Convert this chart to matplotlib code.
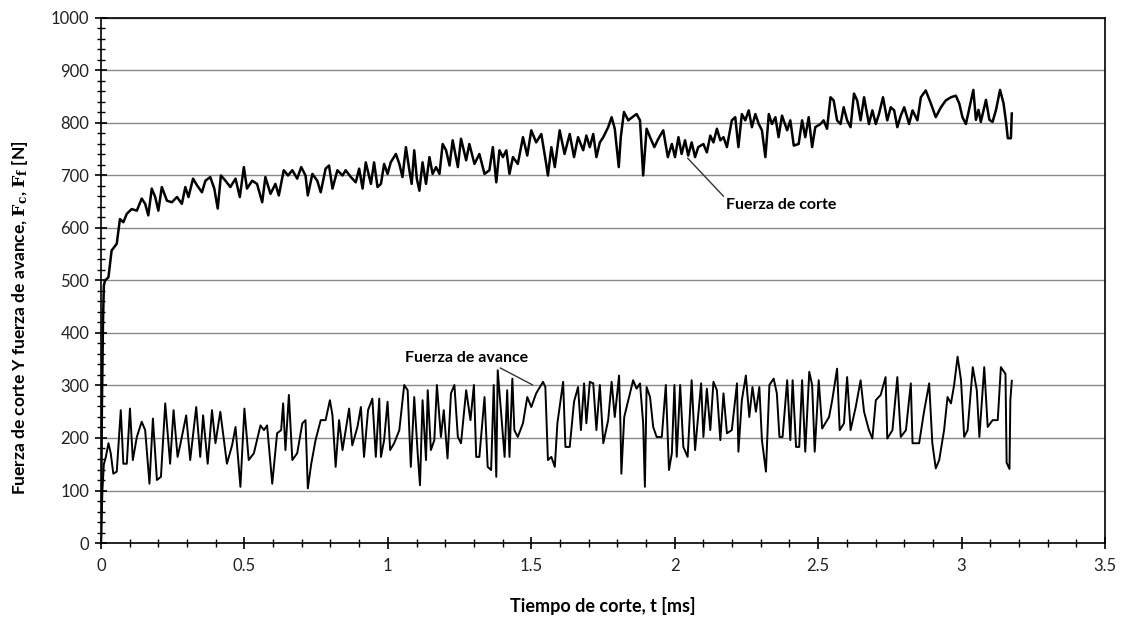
import numpy as np
import matplotlib.pyplot as plt
from matplotlib.ticker import MultipleLocator, FuncFormatter

plt.rcParams.update({"font.family": "Lato", "mathtext.fontset": "dejavuserif",
                     "font.size": 11})

# tiempo de corte (ms) y fuerza de corte (N)
cut_t = [0.000, 0.003, 0.007, 0.010, 0.014, 0.026, 0.037, 0.055, 0.066, 0.078,
         0.090, 0.107, 0.125, 0.142, 0.154, 0.165, 0.177, 0.189, 0.200, 0.212,
         0.230, 0.247, 0.265, 0.282, 0.294, 0.305, 0.321, 0.335, 0.352, 0.364,
         0.381, 0.395, 0.407, 0.418, 0.434, 0.451, 0.469, 0.484, 0.498, 0.509,
         0.527, 0.544, 0.562, 0.573, 0.591, 0.608, 0.620, 0.637, 0.652, 0.667,
         0.684, 0.698, 0.713, 0.721, 0.737, 0.754, 0.766, 0.783, 0.795, 0.807,
         0.824, 0.842, 0.853, 0.871, 0.888, 0.900, 0.912, 0.923, 0.941, 0.952,
         0.964,
         0.976, 0.987, 0.999, 1.010, 1.028, 1.040, 1.051, 1.063, 1.075, 1.083,
         1.092, 1.101, 1.110, 1.121, 1.133, 1.145, 1.156, 1.168, 1.180, 1.191,
         1.203, 1.215, 1.226, 1.244, 1.255, 1.273, 1.284, 1.302, 1.319, 1.337,
         1.354, 1.366, 1.378, 1.389, 1.401, 1.413, 1.424, 1.436, 1.453, 1.471,
         1.486, 1.500, 1.517, 1.535, 1.552, 1.558, 1.570, 1.582, 1.599, 1.616,
         1.634, 1.649, 1.663, 1.681, 1.692, 1.704, 1.716, 1.727, 1.739, 1.751,
         1.768, 1.780, 1.791, 1.805, 1.812, 1.823, 1.838, 1.852, 1.867, 1.879,
         1.890, 1.902, 1.914, 1.929, 1.943, 1.960, 1.976,
         1.990, 2.001, 2.013, 2.024, 2.036, 2.047, 2.059, 2.071, 2.082, 2.100,
         2.112, 2.124, 2.135, 2.147, 2.159, 2.170, 2.182, 2.199, 2.211, 2.222,
         2.234, 2.246, 2.258, 2.269, 2.281, 2.293, 2.304, 2.316, 2.328, 2.339,
         2.351, 2.362, 2.374, 2.392, 2.403, 2.415, 2.432, 2.444, 2.455, 2.467,
         2.479, 2.490, 2.508, 2.519, 2.531, 2.543, 2.554, 2.566, 2.578, 2.589,
         2.601, 2.613, 2.625, 2.636, 2.648, 2.660, 2.677, 2.689, 2.701, 2.712,
         2.726, 2.741, 2.753, 2.765, 2.776, 2.788, 2.800, 2.817, 2.829, 2.846,
         2.858, 2.875, 2.893, 2.910, 2.928, 2.945, 2.963, 2.980, 2.992, 3.003,
         3.015,
         3.041, 3.050, 3.059, 3.067, 3.085, 3.097, 3.108, 3.120, 3.134, 3.146,
         3.155, 3.161, 3.172, 3.175]
cut_f = [0, 250, 420, 490, 500, 506, 557, 570, 617, 611,
         627, 636, 633, 656, 646, 624, 675, 659, 633, 678,
         652, 649, 659, 646, 678, 659, 694, 681, 668, 690,
         697, 675, 637, 700, 690, 678, 694, 659, 716, 675,
         690, 684, 649, 697, 665, 684, 662, 710, 700, 710,
         694, 716, 700, 662, 703, 690, 668, 713, 719, 675,
         710, 700, 710, 697, 687, 713, 675, 725, 684, 725,
         678,
         684, 722, 703, 725, 741, 722, 697, 754, 710, 684,
         748, 694, 671, 725, 684, 735, 703, 716, 703, 760,
         748, 719, 767, 716, 770, 729, 760, 722, 741, 703,
         710, 754, 687, 748, 735, 748, 703, 735, 722, 773,
         738, 786, 763, 779, 722, 700, 754, 716, 786, 741,
         779, 735, 773, 748, 776, 754, 779, 735, 763, 773,
         792, 811, 789, 716, 773, 821, 805, 811, 817, 805,
         700, 789, 773, 754, 770, 786, 735,
         760, 735, 773, 741, 767, 738, 763, 735, 754, 760,
         744, 776, 763, 789, 767, 773, 754, 805, 811, 754,
         817, 805, 824, 792, 817, 798, 786, 735, 817, 798,
         811, 773, 814, 786, 805, 757, 760, 805, 773, 811,
         754, 792, 798, 805, 789, 849, 843, 805, 798, 830,
         805, 792, 856, 843, 805, 849, 798, 824, 798, 817,
         849, 805, 830, 824, 792, 814, 830, 798, 824, 805,
         849, 862, 837, 811, 830, 843, 849, 852, 837, 811,
         798,
         863, 806, 825, 802, 844, 806, 802, 825, 863, 838,
         802, 771, 771, 818]

# fuerza de avance (N)
feed_t = [0.000, 0.005, 0.010, 0.017, 0.026, 0.034, 0.043, 0.055, 0.069, 0.078,
          0.090, 0.101, 0.111, 0.125, 0.142, 0.154, 0.169, 0.181, 0.195, 0.209,
          0.224, 0.241, 0.253, 0.267, 0.276, 0.297, 0.311, 0.332, 0.346, 0.356,
          0.372, 0.387, 0.399, 0.416, 0.439, 0.457, 0.469, 0.486, 0.500, 0.515,
          0.533, 0.556, 0.568, 0.579, 0.597, 0.614, 0.628, 0.635, 0.643, 0.655,
          0.667, 0.684, 0.702, 0.713, 0.721, 0.733, 0.748, 0.766, 0.783, 0.798,
          0.807, 0.818, 0.830, 0.842, 0.865, 0.876, 0.894, 0.906, 0.917, 0.931,
          0.946, 0.958, 0.970,
          0.976, 0.987, 0.999, 1.008, 1.022, 1.040, 1.057, 1.069, 1.080, 1.092,
          1.104, 1.112, 1.121, 1.133, 1.139, 1.150, 1.162, 1.171, 1.185, 1.195,
          1.208, 1.220, 1.232, 1.244, 1.255, 1.273, 1.288, 1.300, 1.308, 1.319,
          1.337, 1.348, 1.360, 1.369, 1.378, 1.383, 1.395, 1.407, 1.416, 1.424,
          1.434, 1.441, 1.453, 1.471, 1.486, 1.500, 1.517, 1.541, 1.549, 1.558,
          1.570, 1.582, 1.591, 1.611, 1.619, 1.634, 1.649, 1.663, 1.673, 1.684,
          1.692, 1.704, 1.716, 1.727, 1.739, 1.751, 1.768, 1.780, 1.791, 1.806,
          1.811, 1.814, 1.824, 1.838, 1.855, 1.867, 1.879, 1.890, 1.896, 1.902,
          1.914, 1.925, 1.937, 1.955, 1.969, 1.980,
          1.990, 1.999, 2.007, 2.019, 2.030, 2.045, 2.059, 2.071, 2.092, 2.100,
          2.112, 2.124, 2.135, 2.147, 2.159, 2.170, 2.182, 2.199, 2.217, 2.222,
          2.234, 2.248, 2.260, 2.271, 2.283, 2.295, 2.304, 2.318, 2.330, 2.345,
          2.356, 2.365, 2.376, 2.392, 2.403, 2.411, 2.423, 2.434, 2.444, 2.455,
          2.469, 2.479, 2.488, 2.502, 2.514, 2.538, 2.549, 2.566, 2.575, 2.590,
          2.601, 2.613, 2.631, 2.648, 2.660, 2.677, 2.689, 2.701, 2.718, 2.735,
          2.741, 2.759, 2.776, 2.788, 2.806, 2.823, 2.829, 2.852, 2.869, 2.887,
          2.898, 2.910, 2.922, 2.939, 2.951, 2.963, 2.974, 2.986, 2.998, 3.009,
          3.021, 3.039, 3.053, 3.062, 3.079, 3.091, 3.108, 3.126, 3.137,
          3.153, 3.157, 3.167, 3.170, 3.175]
feed_f = [0, 100, 150, 164, 190, 171, 132, 136, 253, 151,
          151, 256, 158, 202, 231, 215, 113, 237, 120, 126,
          266, 151, 253, 164, 186, 243, 158, 259, 164, 243,
          151, 253, 190, 250, 151, 186, 221, 107, 256, 158,
          171, 224, 215, 224, 113, 209, 215, 266, 177, 282,
          158, 171, 228, 234, 104, 151, 196, 234, 234, 272,
          243, 145, 234, 177, 256, 186, 221, 259, 164, 253,
          275, 164, 275,
          164, 196, 269, 177, 190, 215, 301, 291, 145, 278,
          171, 110, 272, 158, 291, 177, 196, 301, 202, 253,
          161, 285, 301, 202, 190, 291, 234, 301, 164, 164,
          278, 145, 139, 301, 126, 329, 247, 164, 291, 164,
          313, 215, 202, 228, 278, 259, 285, 307, 297, 158,
          164, 145, 228, 307, 183, 183, 269, 297, 215, 304,
          228, 307, 304, 215, 301, 190, 234, 307, 240, 319,
          221, 132, 240, 272, 310, 294, 304, 228, 107, 297,
          278, 221, 202, 202, 301, 139,
          171, 301, 164, 301, 183, 164, 310, 177, 304, 202,
          294, 215, 307, 291, 196, 285, 209, 215, 304, 174,
          272, 319, 240, 297, 250, 297, 196, 136, 301, 313,
          285, 202, 202, 310, 196, 310, 183, 183, 310, 174,
          326, 301, 174, 310, 218, 240, 272, 332, 215, 228,
          316, 215, 259, 310, 250, 215, 199, 272, 282, 316,
          199, 215, 316, 202, 215, 304, 190, 190, 250, 304,
          190, 142, 158, 215, 278, 266, 301, 355, 310, 202,
          215, 335, 291, 202, 335, 221, 234, 234, 335,
          322, 153, 141, 272, 309]

fig = plt.figure(figsize=(11.27, 6.24), dpi=100)
ax = fig.add_axes([0.0896, 0.1298, 0.8909, 0.8414])

ax.plot(cut_t, cut_f, color="black", lw=1.8)
ax.plot(feed_t, feed_f, color="black", lw=1.4)

ax.set_xlim(0, 3.5)
ax.set_ylim(0, 1000)
ax.xaxis.set_major_locator(MultipleLocator(0.5))
ax.xaxis.set_minor_locator(MultipleLocator(0.1))
ax.yaxis.set_major_locator(MultipleLocator(100))
ax.yaxis.set_minor_locator(MultipleLocator(20))
ax.xaxis.set_major_formatter(FuncFormatter(lambda v, _: f"{v:g}"))
ax.tick_params(which="major", direction="inout", length=9, width=1.2,
               labelsize=12, labelcolor="#222222")
ax.tick_params(which="minor", direction="inout", length=6, width=1.0)
ax.tick_params(axis="y", pad=4)
ax.tick_params(axis="x", pad=6)

ax.yaxis.grid(True, color="#8a8a8a", lw=1.0)
ax.set_axisbelow(True)
for s in ax.spines.values():
    s.set_linewidth(1.2)

ax.set_xlabel("Tiempo de corte, t [ms]", fontweight="bold", fontsize=13)
ax.set_ylabel(r"Fuerza de corte Y fuerza de avance, $\mathbf{F_c}$, $\mathbf{F_f}$ [N]",
              fontweight="bold", fontsize=12.5)
ax.xaxis.set_label_coords(0.5, -0.102)
ax.yaxis.set_label_coords(-0.071, 0.43)

ax.annotate("Fuerza de corte", xy=(2.045, 733), xytext=(2.18, 644),
            ha="left", va="center", fontsize=11.5, fontweight="bold",
            arrowprops=dict(arrowstyle="-", color="#333333", lw=1,
                            relpos=(0, 0.9), shrinkA=0, shrinkB=0))
ax.annotate("Fuerza de avance", xy=(1.505, 301), xytext=(1.06, 352),
            ha="left", va="center", fontsize=11.5, fontweight="bold",
            arrowprops=dict(arrowstyle="-", color="#333333", lw=1,
                            relpos=(0.73, 0), shrinkA=0, shrinkB=0))

fig.savefig("out.png", dpi=100)
